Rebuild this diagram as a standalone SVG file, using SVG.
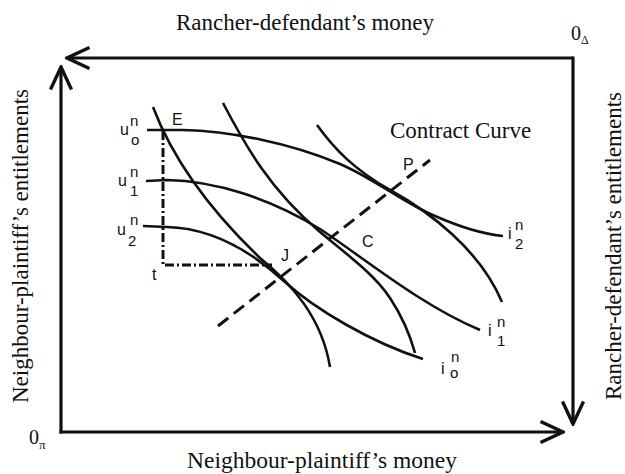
<svg xmlns="http://www.w3.org/2000/svg" width="625" height="474" viewBox="0 0 625 474">
<style>
.ax{fill:none;stroke:#111;stroke-width:3.2}
.cv{fill:none;stroke:#111;stroke-width:2.6;stroke-linecap:butt}
.cc{fill:none;stroke:#111;stroke-width:3;stroke-dasharray:13 7}
.dd{fill:none;stroke:#111;stroke-width:3;stroke-dasharray:9 3 2 3}
.serif{font-family:"Liberation Serif","Times New Roman",serif;fill:#111}
.sans{font-family:"Liberation Sans",Arial,sans-serif;fill:#111;font-size:16px}
.sm{font-size:15px}
</style>
<defs>
<marker id="arr" viewBox="0 0 26 24" refX="24" refY="12" markerWidth="26" markerHeight="24" markerUnits="userSpaceOnUse" orient="auto">
<path d="M1.5,1.5 L24,12 L1.5,22.5" fill="none" stroke="#111" stroke-width="3.4"/>
</marker>
</defs>
<rect width="625" height="474" fill="#fff"/>
<g id="axes">
<line class="ax" x1="573" y1="58" x2="67" y2="58" marker-end="url(#arr)"/>
<line class="ax" x1="573" y1="56.5" x2="573" y2="424" marker-end="url(#arr)"/>
<line class="ax" x1="61" y1="433.5" x2="61" y2="67" marker-end="url(#arr)"/>
<line class="ax" x1="59.5" y1="432" x2="563" y2="432" marker-end="url(#arr)"/>
</g>
<g id="axis-labels">
<text class="serif" x="305" y="30" font-size="23" text-anchor="middle">Rancher-defendant’s money</text>
<text class="serif" x="322" y="468" font-size="23.5" text-anchor="middle">Neighbour-plaintiff’s money</text>
<text class="serif" font-size="23" text-anchor="middle" transform="translate(28,246) rotate(-90)">Neighbour-plaintiff’s entitlements</text>
<text class="serif" font-size="23" text-anchor="middle" transform="translate(621,246) rotate(-90)">Rancher-defendant’s entitlements</text>
<text class="serif" x="571" y="40" font-size="20">0<tspan font-size="12" dy="4">Δ</tspan></text>
<text class="serif" x="29" y="444" font-size="20">0<tspan font-size="13" dy="5">π</tspan></text>
</g>
<g id="neighbour-curves">
<path class="cv" d="M147,130 L183,130 C230,131 290,143 340,164 C375,179 405,204 435,216 C460,227 483,234 503,236"/>
<path class="cv" d="M146,181 L167,180 C215,181 270,198 320,229 C360,255 420,305 480,330"/>
<path class="cv" d="M143,226 L167,227 C210,228 250,250 285,282 C315,309 370,342 423,359"/>
</g>
<g id="rancher-curves">
<path class="cv" d="M153,107 C175,165 215,215 260,258 C292,284 322,318 330,367"/>
<path class="cv" d="M223,103 C245,145 270,190 320,232 C350,257 375,275 390,298 C402,316 410,335 415,353"/>
<path class="cv" d="M317,125 C335,150 355,170 390,190 C430,212 480,250 502,302"/>
</g>
<g id="contract-curve">
<line class="cc" x1="218" y1="326" x2="430" y2="160"/>
<text class="serif" x="390" y="138" font-size="23">Contract Curve</text>
</g>
<g id="tline">
<path class="dd" d="M163,131 L163,265 L272,265"/>
</g>
<g id="labels" class="sans">
<text x="172" y="125">E</text>
<text x="403" y="170">P</text>
<text x="362" y="247">C</text>
<text x="281" y="261">J</text>
<text x="152" y="280">t</text>
<text x="120" y="135">u</text><text x="130" y="126" class="sm">n</text><text x="131" y="145" class="sm">o</text>
<text x="118" y="186">u</text><text x="130" y="177" class="sm">n</text><text x="130" y="196" class="sm">1</text>
<text x="117" y="235">u</text><text x="130" y="225" class="sm">n</text><text x="128" y="246" class="sm">2</text>
<text x="508" y="239">i</text><text x="515" y="230" class="sm">n</text><text x="515" y="249" class="sm">2</text>
<text x="488" y="336">i</text><text x="497" y="327" class="sm">n</text><text x="497" y="346" class="sm">1</text>
<text x="441" y="374">i</text><text x="451" y="362" class="sm">n</text><text x="450" y="378" class="sm">o</text>
</g>
</svg>
